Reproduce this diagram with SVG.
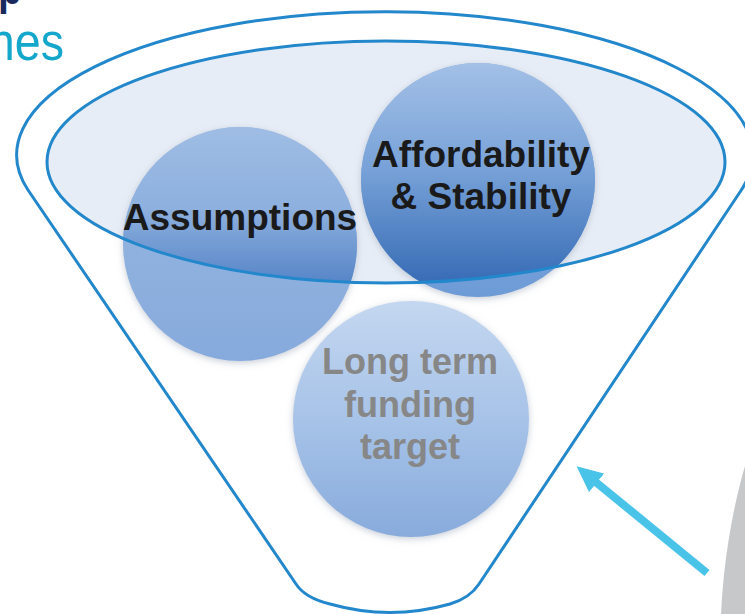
<svg xmlns="http://www.w3.org/2000/svg" width="745" height="614" viewBox="0 0 745 614">
  <style>
    .rim { fill: none; stroke: #2387cc; stroke-width: 3; }
    .label { font-family: "Liberation Sans", Arial, sans-serif; font-weight: bold; text-anchor: middle; }
    .dark { fill: #1a1a1a; font-size: 37px; }
    .grey { fill: #878787; font-size: 36px; }
    .title { font-family: "Liberation Sans", Arial, sans-serif; }
  </style>
  <defs>
    <clipPath id="mouthClip">
      <ellipse cx="386" cy="162" rx="339" ry="121"/>
    </clipPath>
    <filter id="glow" x="-20%" y="-20%" width="140%" height="140%">
      <feDropShadow dx="0" dy="2" stdDeviation="3.5" flood-color="#9aa6b8" flood-opacity="0.55"/>
    </filter>
    <!-- Assumptions: lower part below the mouth, upper part inside the mouth -->
    <linearGradient id="gAssumeOut" x1="0" y1="0" x2="0" y2="1">
      <stop offset="0" stop-color="#9ab9e2"/>
      <stop offset="1" stop-color="#86aadc"/>
    </linearGradient>
    <linearGradient id="gAssumeIn" x1="0" y1="0" x2="0" y2="1">
      <stop offset="0" stop-color="#9fbde4"/>
      <stop offset="0.35" stop-color="#8db0de"/>
      <stop offset="0.66" stop-color="#5886c8"/>
      <stop offset="1" stop-color="#5886c8"/>
    </linearGradient>
    <!-- Affordability -->
    <linearGradient id="gAffordOut" x1="0" y1="0" x2="0" y2="1">
      <stop offset="0" stop-color="#8fb3e0"/>
      <stop offset="1" stop-color="#6d9bd6"/>
    </linearGradient>
    <linearGradient id="gAffordIn" x1="0" y1="0" x2="0" y2="1">
      <stop offset="0" stop-color="#a3c0e6"/>
      <stop offset="0.45" stop-color="#78a2d8"/>
      <stop offset="0.92" stop-color="#3a6eb7"/>
      <stop offset="1" stop-color="#3a6eb7"/>
    </linearGradient>
    <!-- Long term funding target -->
    <linearGradient id="gTarget" x1="0" y1="0" x2="0" y2="1">
      <stop offset="0" stop-color="#c4d7f0"/>
      <stop offset="0.5" stop-color="#a7c3e8"/>
      <stop offset="1" stop-color="#88abdc"/>
    </linearGradient>
    <marker id="arrowHead" viewBox="0 0 26 24" refX="6" refY="12" markerWidth="26" markerHeight="24" markerUnits="userSpaceOnUse" orient="auto">
      <path d="M0,0 L26,12 L0,24 Z" fill="#4ac3e9"/>
    </marker>
  </defs>

  <rect width="745" height="614" fill="#ffffff"/>

  <!-- heading fragments at the top left -->
  <text class="title" transform="translate(-2,4) scale(0.85,1)" font-size="46" font-weight="bold" fill="#1b2a5e">p</text>
  <text class="title" transform="translate(64,60) scale(0.88,1)" font-size="53" text-anchor="end" fill="#14a7cb">nes</text>

  <!-- grey ring edge at the bottom right -->
  <path d="M745,466 C735,500 724,552 721,614 L745,614 Z" fill="#c7c8ca"/>

  <!-- funnel body -->
  <g id="funnel">
    <path class="rim" fill="#ffffff" d="M296,584 L28,190 A368,143 0 1 1 740,192 L479,584 Q470,598 450,604 Q390,621 330,604 Q305,598 296,584 Z"/>
    <ellipse cx="386" cy="162" rx="339" ry="121" fill="#e7edf6"/>
  </g>

  <g id="assumptions">
    <circle cx="240" cy="244" r="117" fill="url(#gAssumeOut)" filter="url(#glow)"/>
    <circle cx="240" cy="244" r="117" fill="url(#gAssumeIn)" clip-path="url(#mouthClip)"/>
  </g>

  <g id="affordability">
    <circle cx="478" cy="180" r="117" fill="url(#gAffordOut)" filter="url(#glow)"/>
    <circle cx="478" cy="180" r="117" fill="url(#gAffordIn)" clip-path="url(#mouthClip)"/>
  </g>

  <g id="target">
    <circle cx="411" cy="419" r="118" fill="url(#gTarget)" filter="url(#glow)"/>
    <text class="label grey" x="410" y="374">Long term</text>
    <text class="label grey" x="410" y="417">funding</text>
    <text class="label grey" x="410" y="459">target</text>
  </g>

  <!-- mouth edge passes in front of the circles -->
  <ellipse id="mouth" class="rim" cx="386" cy="162" rx="339" ry="121"/>

  <text class="label dark" x="240" y="230">Assumptions</text>
  <text class="label dark" x="481" y="167">Affordability</text>
  <text class="label dark" x="481" y="209">&amp; Stability</text>

  <g id="connectors">
    <line x1="707" y1="573" x2="592" y2="479" stroke="#4ac3e9" stroke-width="8" marker-end="url(#arrowHead)"/>
  </g>
</svg>
